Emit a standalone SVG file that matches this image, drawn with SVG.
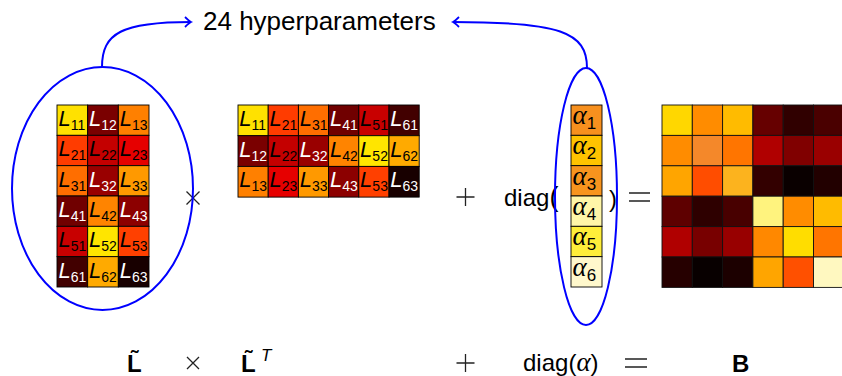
<svg xmlns="http://www.w3.org/2000/svg" width="842" height="376" viewBox="0 0 842 376">
<style>
.cell{stroke:#000;stroke-width:0.9}
.bcell{stroke:#111;stroke-width:0.9}
.t{font-family:"Liberation Sans",Arial,sans-serif;fill:#000}
.L{font-family:"Liberation Sans",Arial,sans-serif;font-style:italic;font-size:22px}
.s{font-family:"Liberation Sans",Arial,sans-serif;font-size:14px}
.w{fill:#fff}
.k{fill:#000}
.a{font-family:"Liberation Serif","Times New Roman",serif;font-style:italic;font-size:27px;fill:#000}
.as{font-family:"Liberation Sans",Arial,sans-serif;font-size:17px;fill:#000}
.big{font-family:"Liberation Sans",Arial,sans-serif;font-size:24px;fill:#000}
.op{stroke:#222;stroke-width:1.3;fill:none}
.con{fill:none;stroke:#0000ff;stroke-width:2}
</style>
<defs>
<marker id="arr" markerWidth="12" markerHeight="12" refX="0" refY="0" viewBox="-8 -6 10 12" orient="auto" markerUnits="userSpaceOnUse">
<path d="M-6,-5 Q-2,-1 0,0 Q-2,1 -6,5" fill="none" stroke="#0000ff" stroke-width="1.8"/>
</marker>
</defs>

<g id="hyper-label">
<text class="t" x="203" y="30" font-size="26">24 hyperparameters</text>
</g>

<g id="L-matrix">
<rect class="cell" x="57" y="105" width="30.67" height="30.33" fill="#FFE100"/>
<rect class="cell" x="87.67" y="105" width="30.67" height="30.33" fill="#7A0000"/>
<rect class="cell" x="118.33" y="105" width="30.67" height="30.33" fill="#FF8000"/>
<rect class="cell" x="57" y="135.33" width="30.67" height="30.33" fill="#FF3C00"/>
<rect class="cell" x="87.67" y="135.33" width="30.67" height="30.33" fill="#C40000"/>
<rect class="cell" x="118.33" y="135.33" width="30.67" height="30.33" fill="#E60000"/>
<rect class="cell" x="57" y="165.67" width="30.67" height="30.33" fill="#FF6E00"/>
<rect class="cell" x="87.67" y="165.67" width="30.67" height="30.33" fill="#990000"/>
<rect class="cell" x="118.33" y="165.67" width="30.67" height="30.33" fill="#FF9900"/>
<rect class="cell" x="57" y="196" width="30.67" height="30.33" fill="#700000"/>
<rect class="cell" x="87.67" y="196" width="30.67" height="30.33" fill="#FF8400"/>
<rect class="cell" x="118.33" y="196" width="30.67" height="30.33" fill="#8C0000"/>
<rect class="cell" x="57" y="226.33" width="30.67" height="30.33" fill="#C80000"/>
<rect class="cell" x="87.67" y="226.33" width="30.67" height="30.33" fill="#FFE500"/>
<rect class="cell" x="118.33" y="226.33" width="30.67" height="30.33" fill="#FF4000"/>
<rect class="cell" x="57" y="256.67" width="30.67" height="30.33" fill="#420000"/>
<rect class="cell" x="87.67" y="256.67" width="30.67" height="30.33" fill="#FFAA00"/>
<rect class="cell" x="118.33" y="256.67" width="30.67" height="30.33" fill="#180000"/>
<text class="k" x="58.5" y="126"><tspan class="L">L</tspan><tspan class="s" dy="4">11</tspan></text>
<text class="w" x="89" y="126"><tspan class="L">L</tspan><tspan class="s" dy="4">12</tspan></text>
<text class="k" x="119.8" y="126"><tspan class="L">L</tspan><tspan class="s" dy="4">13</tspan></text>
<text class="k" x="58.5" y="156.3"><tspan class="L">L</tspan><tspan class="s" dy="4">21</tspan></text>
<text class="k" x="89" y="156.3"><tspan class="L">L</tspan><tspan class="s" dy="4">22</tspan></text>
<text class="k" x="119.8" y="156.3"><tspan class="L">L</tspan><tspan class="s" dy="4">23</tspan></text>
<text class="k" x="58.5" y="186.7"><tspan class="L">L</tspan><tspan class="s" dy="4">31</tspan></text>
<text class="w" x="89" y="186.7"><tspan class="L">L</tspan><tspan class="s" dy="4">32</tspan></text>
<text class="k" x="119.8" y="186.7"><tspan class="L">L</tspan><tspan class="s" dy="4">33</tspan></text>
<text class="w" x="58.5" y="217"><tspan class="L">L</tspan><tspan class="s" dy="4">41</tspan></text>
<text class="k" x="89" y="217"><tspan class="L">L</tspan><tspan class="s" dy="4">42</tspan></text>
<text class="w" x="119.8" y="217"><tspan class="L">L</tspan><tspan class="s" dy="4">43</tspan></text>
<text class="k" x="58.5" y="247.3"><tspan class="L">L</tspan><tspan class="s" dy="4">51</tspan></text>
<text class="k" x="89" y="247.3"><tspan class="L">L</tspan><tspan class="s" dy="4">52</tspan></text>
<text class="k" x="119.8" y="247.3"><tspan class="L">L</tspan><tspan class="s" dy="4">53</tspan></text>
<text class="w" x="58.5" y="277.7"><tspan class="L">L</tspan><tspan class="s" dy="4">61</tspan></text>
<text class="k" x="89" y="277.7"><tspan class="L">L</tspan><tspan class="s" dy="4">62</tspan></text>
<text class="w" x="119.8" y="277.7"><tspan class="L">L</tspan><tspan class="s" dy="4">63</tspan></text>
</g>

<g id="times-op">
<path class="op" d="M186.5,191.5 L199.5,204.5 M199.5,191.5 L186.5,204.5"/>
</g>

<g id="LT-matrix">
<rect class="cell" x="238" y="105" width="30.2" height="30.7" fill="#FFE100"/>
<rect class="cell" x="268.2" y="105" width="30.2" height="30.7" fill="#FF3C00"/>
<rect class="cell" x="298.4" y="105" width="30.2" height="30.7" fill="#FF6E00"/>
<rect class="cell" x="328.6" y="105" width="30.2" height="30.7" fill="#700000"/>
<rect class="cell" x="358.8" y="105" width="30.2" height="30.7" fill="#C80000"/>
<rect class="cell" x="389" y="105" width="30.2" height="30.7" fill="#420000"/>
<rect class="cell" x="238" y="135.7" width="30.2" height="30.7" fill="#7A0000"/>
<rect class="cell" x="268.2" y="135.7" width="30.2" height="30.7" fill="#C40000"/>
<rect class="cell" x="298.4" y="135.7" width="30.2" height="30.7" fill="#990000"/>
<rect class="cell" x="328.6" y="135.7" width="30.2" height="30.7" fill="#FF8400"/>
<rect class="cell" x="358.8" y="135.7" width="30.2" height="30.7" fill="#FFE500"/>
<rect class="cell" x="389" y="135.7" width="30.2" height="30.7" fill="#FFAA00"/>
<rect class="cell" x="238" y="166.4" width="30.2" height="30.7" fill="#FF8000"/>
<rect class="cell" x="268.2" y="166.4" width="30.2" height="30.7" fill="#E60000"/>
<rect class="cell" x="298.4" y="166.4" width="30.2" height="30.7" fill="#FF9900"/>
<rect class="cell" x="328.6" y="166.4" width="30.2" height="30.7" fill="#8C0000"/>
<rect class="cell" x="358.8" y="166.4" width="30.2" height="30.7" fill="#FF4000"/>
<rect class="cell" x="389" y="166.4" width="30.2" height="30.7" fill="#180000"/>
<text class="k" x="239.3" y="126"><tspan class="L">L</tspan><tspan class="s" dy="4">11</tspan></text>
<text class="k" x="269.5" y="126"><tspan class="L">L</tspan><tspan class="s" dy="4">21</tspan></text>
<text class="k" x="299.7" y="126"><tspan class="L">L</tspan><tspan class="s" dy="4">31</tspan></text>
<text class="w" x="329.9" y="126"><tspan class="L">L</tspan><tspan class="s" dy="4">41</tspan></text>
<text class="k" x="360.1" y="126"><tspan class="L">L</tspan><tspan class="s" dy="4">51</tspan></text>
<text class="w" x="390.3" y="126"><tspan class="L">L</tspan><tspan class="s" dy="4">61</tspan></text>
<text class="w" x="239.3" y="156.7"><tspan class="L">L</tspan><tspan class="s" dy="4">12</tspan></text>
<text class="k" x="269.5" y="156.7"><tspan class="L">L</tspan><tspan class="s" dy="4">22</tspan></text>
<text class="w" x="299.7" y="156.7"><tspan class="L">L</tspan><tspan class="s" dy="4">32</tspan></text>
<text class="k" x="329.9" y="156.7"><tspan class="L">L</tspan><tspan class="s" dy="4">42</tspan></text>
<text class="k" x="360.1" y="156.7"><tspan class="L">L</tspan><tspan class="s" dy="4">52</tspan></text>
<text class="k" x="390.3" y="156.7"><tspan class="L">L</tspan><tspan class="s" dy="4">62</tspan></text>
<text class="k" x="239.3" y="187.4"><tspan class="L">L</tspan><tspan class="s" dy="4">13</tspan></text>
<text class="k" x="269.5" y="187.4"><tspan class="L">L</tspan><tspan class="s" dy="4">23</tspan></text>
<text class="k" x="299.7" y="187.4"><tspan class="L">L</tspan><tspan class="s" dy="4">33</tspan></text>
<text class="w" x="329.9" y="187.4"><tspan class="L">L</tspan><tspan class="s" dy="4">43</tspan></text>
<text class="k" x="360.1" y="187.4"><tspan class="L">L</tspan><tspan class="s" dy="4">53</tspan></text>
<text class="w" x="390.3" y="187.4"><tspan class="L">L</tspan><tspan class="s" dy="4">63</tspan></text>
</g>

<g id="plus-op">
<path class="op" d="M456.5,197 L474.5,197 M465.5,188 L465.5,206"/>
</g>

<g id="diag-text">
<text class="big" x="504" y="206">diag<tspan font-size="27">(</tspan></text>
<text class="big" x="609" y="207" font-size="27">)</text>
<path class="op" d="M629,193 L650,193 M629,201 L650,201"/>
</g>

<g id="alpha">
<rect class="cell" x="571" y="105" width="31" height="30.33" fill="#F7901E"/>
<rect class="cell" x="571" y="135.33" width="31" height="30.33" fill="#FFC300"/>
<rect class="cell" x="571" y="165.67" width="31" height="30.33" fill="#F7941E"/>
<rect class="cell" x="571" y="196" width="31" height="30.33" fill="#FFF6A8"/>
<rect class="cell" x="571" y="226.33" width="31" height="30.33" fill="#FFEE3A"/>
<rect class="cell" x="571" y="256.67" width="31" height="30.33" fill="#FFF8CC"/>
<text x="572.5" y="124"><tspan class="a">α</tspan><tspan class="as" dy="5">1</tspan></text>
<text x="572.5" y="154.3"><tspan class="a">α</tspan><tspan class="as" dy="5">2</tspan></text>
<text x="572.5" y="184.7"><tspan class="a">α</tspan><tspan class="as" dy="5">3</tspan></text>
<text x="572.5" y="215"><tspan class="a">α</tspan><tspan class="as" dy="5">4</tspan></text>
<text x="572.5" y="245.3"><tspan class="a">α</tspan><tspan class="as" dy="5">5</tspan></text>
<text x="572.5" y="275.7"><tspan class="a">α</tspan><tspan class="as" dy="5">6</tspan></text>
</g>

<g id="B-matrix">
<rect class="bcell" x="662" y="105" width="30.3" height="30.4" fill="#FFD700"/>
<rect class="bcell" x="692.3" y="105" width="30.3" height="30.4" fill="#FF8C00"/>
<rect class="bcell" x="722.6" y="105" width="30.3" height="30.4" fill="#FFBB00"/>
<rect class="bcell" x="752.9" y="105" width="30.3" height="30.4" fill="#660000"/>
<rect class="bcell" x="783.2" y="105" width="30.3" height="30.4" fill="#300000"/>
<rect class="bcell" x="813.5" y="105" width="30.3" height="30.4" fill="#4A0000"/>
<rect class="bcell" x="662" y="135.4" width="30.3" height="30.4" fill="#FF8C00"/>
<rect class="bcell" x="692.3" y="135.4" width="30.3" height="30.4" fill="#F4882A"/>
<rect class="bcell" x="722.6" y="135.4" width="30.3" height="30.4" fill="#FF7500"/>
<rect class="bcell" x="752.9" y="135.4" width="30.3" height="30.4" fill="#B00000"/>
<rect class="bcell" x="783.2" y="135.4" width="30.3" height="30.4" fill="#800000"/>
<rect class="bcell" x="813.5" y="135.4" width="30.3" height="30.4" fill="#9A0000"/>
<rect class="bcell" x="662" y="165.8" width="30.3" height="30.4" fill="#FFA500"/>
<rect class="bcell" x="692.3" y="165.8" width="30.3" height="30.4" fill="#FF4D00"/>
<rect class="bcell" x="722.6" y="165.8" width="30.3" height="30.4" fill="#FCB31E"/>
<rect class="bcell" x="752.9" y="165.8" width="30.3" height="30.4" fill="#330000"/>
<rect class="bcell" x="783.2" y="165.8" width="30.3" height="30.4" fill="#0A0000"/>
<rect class="bcell" x="813.5" y="165.8" width="30.3" height="30.4" fill="#220000"/>
<rect class="bcell" x="662" y="196.2" width="30.3" height="30.4" fill="#5E0000"/>
<rect class="bcell" x="692.3" y="196.2" width="30.3" height="30.4" fill="#2E0000"/>
<rect class="bcell" x="722.6" y="196.2" width="30.3" height="30.4" fill="#480000"/>
<rect class="bcell" x="752.9" y="196.2" width="30.3" height="30.4" fill="#FFF37E"/>
<rect class="bcell" x="783.2" y="196.2" width="30.3" height="30.4" fill="#FF8C00"/>
<rect class="bcell" x="813.5" y="196.2" width="30.3" height="30.4" fill="#FFBB00"/>
<rect class="bcell" x="662" y="226.6" width="30.3" height="30.4" fill="#B00000"/>
<rect class="bcell" x="692.3" y="226.6" width="30.3" height="30.4" fill="#780000"/>
<rect class="bcell" x="722.6" y="226.6" width="30.3" height="30.4" fill="#980000"/>
<rect class="bcell" x="752.9" y="226.6" width="30.3" height="30.4" fill="#FF8800"/>
<rect class="bcell" x="783.2" y="226.6" width="30.3" height="30.4" fill="#FFDD00"/>
<rect class="bcell" x="813.5" y="226.6" width="30.3" height="30.4" fill="#FF7500"/>
<rect class="bcell" x="662" y="257" width="30.3" height="30.4" fill="#260000"/>
<rect class="bcell" x="692.3" y="257" width="30.3" height="30.4" fill="#080000"/>
<rect class="bcell" x="722.6" y="257" width="30.3" height="30.4" fill="#1C0000"/>
<rect class="bcell" x="752.9" y="257" width="30.3" height="30.4" fill="#FFA500"/>
<rect class="bcell" x="783.2" y="257" width="30.3" height="30.4" fill="#FF5000"/>
<rect class="bcell" x="813.5" y="257" width="30.3" height="30.4" fill="#FFF8C0"/>
</g>

<g id="bottom-labels">
<text class="t" x="127" y="372" font-size="24" font-weight="bold">L&#x303;</text>
<path class="op" d="M187,357 L199,369 M199,357 L187,369"/>
<text class="t" x="241" y="372" font-size="24" font-weight="bold">L&#x303;<tspan x="261" y="361" font-size="17" font-weight="normal" font-style="italic">T</tspan></text>
<path class="op" d="M456.5,363 L474.5,363 M465.5,354 L465.5,372"/>
<text class="big" x="523" y="371">diag(<tspan font-family="Liberation Serif,serif" font-style="italic" font-size="27">α</tspan>)</text>
<path class="op" d="M625,359 L647,359 M625,367 L647,367"/>
<text class="t" x="732" y="372" font-size="24" font-weight="bold">B</text>
</g>

<g id="connectors">
<ellipse class="con" cx="102.5" cy="188.5" rx="90.5" ry="121.5"/>
<ellipse class="con" cx="586" cy="196.5" rx="31" ry="128.5"/>
<path class="con" d="M102,67 C102,33 122,22 191,22" marker-end="url(#arr)"/>
<path class="con" d="M587,68 C587,32 560,22 453,22" marker-end="url(#arr)"/>
</g>
</svg>
